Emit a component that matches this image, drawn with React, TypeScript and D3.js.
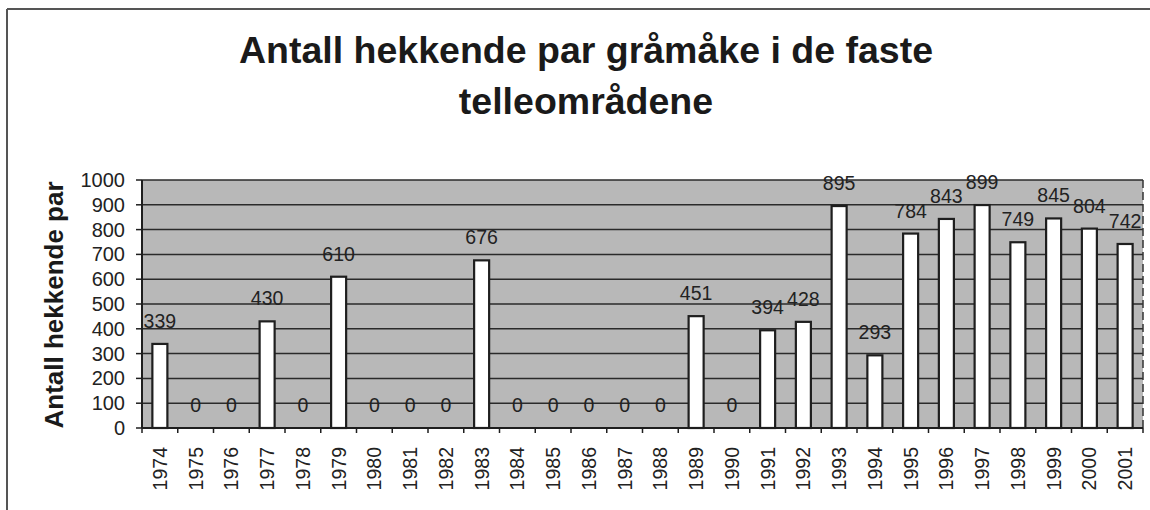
import React from "react";
import * as d3 from "d3";

const years = ["1974","1975","1976","1977","1978","1979","1980","1981","1982","1983","1984","1985","1986","1987","1988","1989","1990","1991","1992","1993","1994","1995","1996","1997","1998","1999","2000","2001"];
const pairs = [339,0,0,430,0,610,0,0,0,676,0,0,0,0,0,451,0,394,428,895,293,784,843,899,749,845,804,742];
const yTicks = [0,100,200,300,400,500,600,700,800,900,1000];
const titleLines = ["Antall hekkende par gråmåke i de faste", "telleområdene"];
const yAxisTitle = "Antall hekkende par";

const W = 1150, H = 510;
const left = 142, right = 1143, top = 180, bottom = 428;
const FONT = "'Liberation Sans', Arial, Helvetica, sans-serif";

export default function App() {
  const x = d3.scaleBand<string>().domain(years).range([left, right]).paddingInner(0.58).paddingOuter(0.29);
  const y = d3.scaleLinear().domain([0, 1000]).range([bottom, top]);
  const step = x.step();
  const bw = x.bandwidth();
  const boundaries = d3.range(years.length + 1).map(i => left + i * step);

  return (
    <svg width={W} height={H} style={{ position: "absolute", left: 0, top: 0, background: "#fff" }}>
      {/* outer frame */}
      <line x1={7} y1={9} x2={W} y2={9} stroke="#555" strokeWidth={2} />
      <line x1={7} y1={9} x2={7} y2={H} stroke="#555" strokeWidth={2} />

      {/* title */}
      {titleLines.map((t, i) => (
        <text key={i} x={586} y={63 + i * 51} textAnchor="middle" fontFamily={FONT} fontWeight="bold" fontSize={37.5} fill="#1a1a1a">{t}</text>
      ))}

      {/* plot background */}
      <rect x={left} y={top} width={right - left} height={bottom - top} fill="#b8b8b8" />

      {/* gridlines */}
      {yTicks.map(v => (
        <line key={v} x1={left} x2={right} y1={y(v)} y2={y(v)} stroke="#2a2a2a" strokeWidth={1.5} />
      ))}
      {/* right border dashed */}
      <line x1={right} x2={right} y1={top} y2={bottom} stroke="#333" strokeWidth={1.5} strokeDasharray="8,4" />

      {/* bars */}
      {years.map((yr, i) => (
        <rect key={yr} x={x(yr)!} y={y(pairs[i])} width={bw} height={bottom - y(pairs[i])} fill="#ffffff" stroke="#1e1e1e" strokeWidth={2.2} />
      ))}

      {/* axes */}
      <line x1={left} x2={left} y1={top} y2={bottom} stroke="#1e1e1e" strokeWidth={2} />
      <line x1={left} x2={right} y1={bottom} y2={bottom} stroke="#1e1e1e" strokeWidth={2} />
      {yTicks.map(v => (
        <g key={"yt" + v}>
          <line x1={left - 6} x2={left} y1={y(v)} y2={y(v)} stroke="#1e1e1e" strokeWidth={1.5} />
          <text x={125} y={y(v) + 7} textAnchor="end" fontFamily={FONT} fontSize={20} fill="#222">{v}</text>
        </g>
      ))}
      {boundaries.map((bx, i) => (
        <line key={"xt" + i} x1={bx} x2={bx} y1={bottom} y2={bottom + 5} stroke="#1e1e1e" strokeWidth={1.5} />
      ))}
      {years.map(yr => {
        const cx = x(yr)! + bw / 2;
        return (
          <text key={"xl" + yr} transform={`translate(${cx + 7},447) rotate(-90)`} textAnchor="end" fontFamily={FONT} fontSize={19.5} fill="#222">{yr}</text>
        );
      })}

      {/* data labels */}
      {years.map((yr, i) => (
        <text key={"dl" + yr} x={x(yr)! + bw / 2} y={y(pairs[i]) - 16} textAnchor="middle" fontFamily={FONT} fontSize={19.5} fill="#222">{pairs[i]}</text>
      ))}

      {/* y axis title */}
      <text transform={`translate(63,305) rotate(-90)`} textAnchor="middle" fontFamily={FONT} fontWeight="bold" fontSize={26} fill="#1a1a1a">{yAxisTitle}</text>
    </svg>
  );
}
